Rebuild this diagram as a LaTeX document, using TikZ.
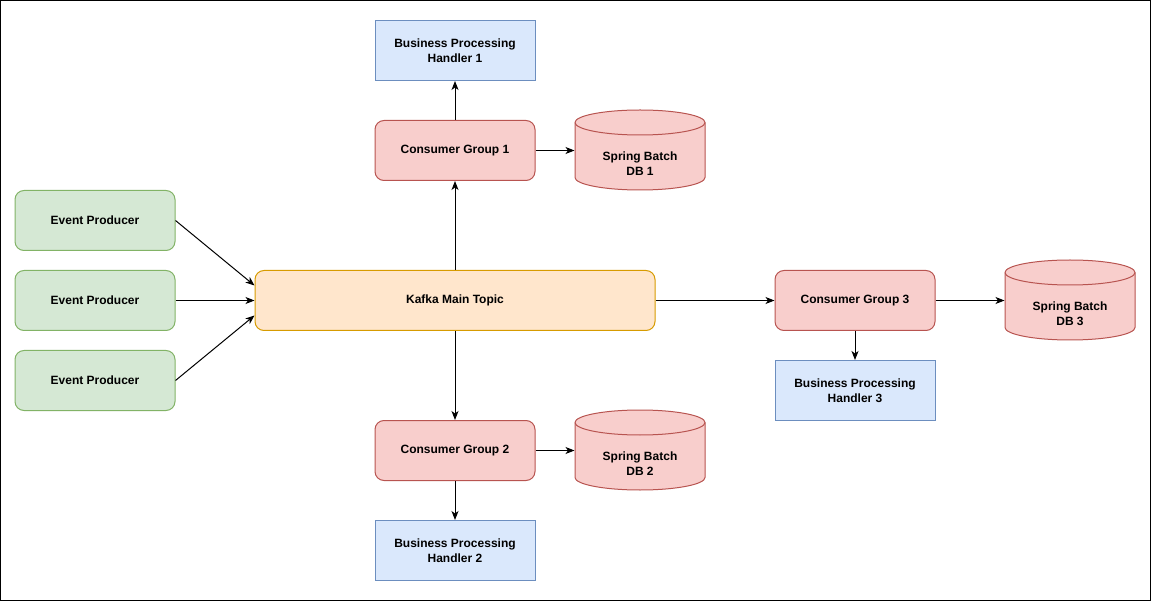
\documentclass[tikz,border=0pt]{standalone}
\usepackage{fontspec}
\setmainfont{Liberation Sans}
\usetikzlibrary{arrows.meta}
\definecolor{gfill}{HTML}{D5E8D4}\definecolor{gline}{HTML}{82B366}
\definecolor{ofill}{HTML}{FFE6CC}\definecolor{oline}{HTML}{D79B00}
\definecolor{rfill}{HTML}{F8CECC}\definecolor{rline}{HTML}{B85450}
\definecolor{bfill}{HTML}{DAE8FC}\definecolor{bline}{HTML}{6C8EBF}
\begin{document}
\begin{tikzpicture}[x=1pt,y=-1pt,
  base/.style={inner sep=0pt,align=center,font=\bfseries\fontsize{12}{15}\selectfont,line width=1pt},
  prod/.style={base,draw=gline,fill=gfill,rounded corners=9pt,minimum width=160pt,minimum height=60pt},
  topic/.style={base,draw=oline,fill=ofill,rounded corners=9pt,minimum width=400pt,minimum height=60pt},
  cons/.style={base,draw=rline,fill=rfill,rounded corners=9pt,minimum width=160pt,minimum height=60pt},
  handler/.style={base,draw=bline,fill=bfill,minimum width=160pt,minimum height=60pt},
  dbarea/.style={base,minimum width=130pt,minimum height=80pt},
  dbshape/.style={draw=rline,fill=rfill,line width=1pt},
  conn/.style={line width=1pt,-{Stealth[length=9pt,width=7pt,inset=2.5pt]}}]
\useasboundingbox (0,0) rectangle (1151,601);
\draw[line width=1pt] (0.5,0.5) rectangle (1150.5,600.5);

% producers
\node[prod] (p1) at (95,220.5) {Event Producer};
\node[prod] (p2) at (95,300.5) {Event Producer};
\node[prod] (p3) at (95,380.5) {Event Producer};
% topic
\node[topic] (k) at (455,300.5) {Kafka Main Topic};
% consumers
\node[cons] (c1) at (455,150.5) {Consumer Group 1};
\node[cons] (c2) at (455,450.5) {Consumer Group 2};
\node[cons] (c3) at (855,300.5) {Consumer Group 3};
% handlers
\node[handler] (h1) at (455,50.5) {Business Processing\\Handler 1};
\node[handler] (h2) at (455,550.5) {Business Processing\\Handler 2};
\node[handler] (h3) at (855,390.5) {Business Processing\\Handler 3};

% cylinders
\draw[dbshape] (575,122.5) -- (575,177.5) arc[start angle=180,end angle=360,x radius=65pt,y radius=12.5pt] -- (705,122.5) arc[start angle=0,end angle=180,x radius=65pt,y radius=12.5pt] -- cycle;
\draw[rline,line width=1pt] (575,122.5) arc[start angle=180,end angle=360,x radius=65pt,y radius=12.5pt];
\draw[dbshape] (575,422.5) -- (575,477.5) arc[start angle=180,end angle=360,x radius=65pt,y radius=12.5pt] -- (705,422.5) arc[start angle=0,end angle=180,x radius=65pt,y radius=12.5pt] -- cycle;
\draw[rline,line width=1pt] (575,422.5) arc[start angle=180,end angle=360,x radius=65pt,y radius=12.5pt];
\draw[dbshape] (1005,272.5) -- (1005,327.5) arc[start angle=180,end angle=360,x radius=65pt,y radius=12.5pt] -- (1135,272.5) arc[start angle=0,end angle=180,x radius=65pt,y radius=12.5pt] -- cycle;
\draw[rline,line width=1pt] (1005,272.5) arc[start angle=180,end angle=360,x radius=65pt,y radius=12.5pt];
\node[dbarea] (d1) at (640,150.5) {};
\node[dbarea] (d2) at (640,450.5) {};
\node[dbarea] (d3) at (1070,300.5) {};
\node[base] (t1) at (640,164) {Spring Batch\\DB 1};
\node[base] (t2) at (640,464) {Spring Batch\\DB 2};
\node[base] (t3) at (1070,314) {Spring Batch\\DB 3};

% connectors
\draw[conn] (p1.east) -- ([yshift=15pt]k.west);
\draw[conn] (p2.east) -- (k.west);
\draw[conn] (p3.east) -- ([yshift=-15pt]k.west);
\draw[conn] (k.north) -- (c1.south);
\draw[conn] (c1.north) -- (h1.south);
\draw[conn] (c1.east) -- (d1.west);
\draw[conn] (k.south) -- (c2.north);
\draw[conn] (c2.south) -- (h2.north);
\draw[conn] (c2.east) -- (d2.west);
\draw[conn] (k.east) -- (c3.west);
\draw[conn] (c3.east) -- (d3.west);
\draw[conn] (c3.south) -- (h3.north);
\end{tikzpicture}
\end{document}
